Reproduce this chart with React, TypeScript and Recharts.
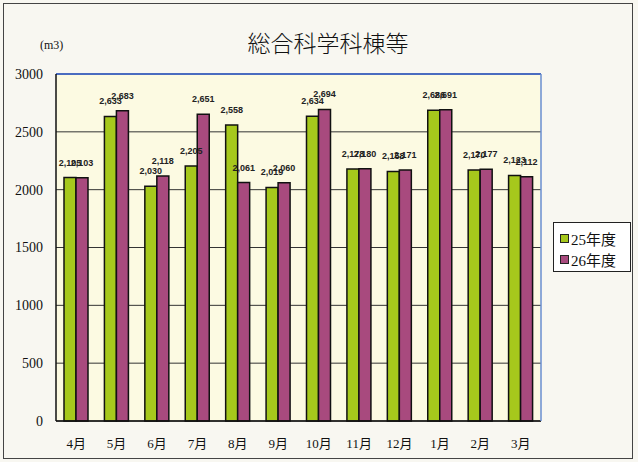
import { BarChart, Bar, XAxis, YAxis, CartesianGrid, ReferenceLine, LabelList } from "recharts";

const months = ["4月", "5月", "6月", "7月", "8月", "9月", "10月", "11月", "12月", "1月", "2月", "3月"];
const fy25 = [2105, 2633, 2030, 2205, 2558, 2019, 2634, 2178, 2158, 2686, 2170, 2123];
const fy26 = [2103, 2683, 2118, 2651, 2061, 2060, 2694, 2180, 2171, 2691, 2177, 2112];
const yTicks = [0, 500, 1000, 1500, 2000, 2500, 3000];
const seriesNames = ["25年度", "26年度"];

const GREEN = "#a6c81c";
const PURPLE = "#a84a7e";
const SERIF = "'Liberation Serif', 'Noto Sans CJK JP', serif";

const data = months.map((m, i) => ({ month: m, fy25: fy25[i], fy26: fy26[i] }));

const fmt = (v: unknown) => Number(v).toLocaleString("en-US");

// 凡例はチャートの余白を取らないように外に置く
function LegendBox() {
  const colors = [GREEN, PURPLE];
  return (
    <div
      style={{
        position: "absolute",
        left: 553,
        top: 222,
        width: 78,
        height: 50,
        border: "1px solid #222",
        background: "#fff",
        boxSizing: "border-box",
        padding: "4px 0 0 6px",
      }}
    >
      {seriesNames.map((name, i) => (
        <div key={name} style={{ display: "flex", alignItems: "center", height: 20, marginTop: 1 }}>
          <span
            style={{
              width: 7,
              height: 7,
              background: colors[i],
              border: "1px solid #222",
              marginRight: 2,
            }}
          />
          <span style={{ fontFamily: SERIF, fontSize: 15, color: "#111" }}>{name}</span>
        </div>
      ))}
    </div>
  );
}

const labelStyle = { fontFamily: "'Liberation Sans', Arial, sans-serif", fontSize: 9, fontWeight: 700, fill: "#222" };

export default function App() {
  return (
    <div
      style={{
        position: "absolute",
        left: 0,
        top: 0,
        width: 638,
        height: 462,
        background: "#f8f7f1",
        overflow: "hidden",
      }}
    >
      <div
        style={{
          position: "absolute",
          left: 3,
          top: 3,
          width: 630,
          height: 456,
          border: "1px solid #444",
          boxSizing: "border-box",
        }}
      />
      <div
        style={{
          position: "absolute",
          left: 0,
          width: 656,
          top: 25,
          textAlign: "center",
          fontFamily: "'Noto Sans CJK JP', sans-serif",
          fontSize: 23,
          fontWeight: 300,
          color: "#111",
        }}
      >
        総合科学科棟等
      </div>
      <div
        style={{
          position: "absolute",
          left: 40,
          top: 38,
          fontFamily: SERIF,
          fontSize: 12,
          color: "#111",
        }}
      >
        (m3)
      </div>
      <div style={{ position: "absolute", left: 0, top: 0 }}>
        <BarChart
          width={638}
          height={462}
          data={data}
          barGap={0}
          barSize={12}
          margin={{ top: 74, right: 96, bottom: 11, left: 6 }}
        >
          <CartesianGrid vertical={false} stroke="#333" fill="#fcfae2" />
          <XAxis
            dataKey="month"
            axisLine={{ stroke: "#111", strokeWidth: 1.5 }}
            tickLine={false}
            tickMargin={12}
            height={30}
            tick={{ fontFamily: SERIF, fontSize: 13, fill: "#111" }}
          />
          <YAxis
            domain={[0, 3000]}
            ticks={yTicks}
            interval={0}
            width={50}
            axisLine={{ stroke: "#111", strokeWidth: 1.5 }}
            tickLine={false}
            tickSize={0}
            tickMargin={13}
            tick={{ fontFamily: SERIF, fontSize: 14, fill: "#111" }}
          />
          <YAxis
            yAxisId="right"
            orientation="right"
            domain={[0, 3000]}
            width={1}
            tick={false}
            tickLine={false}
            axisLine={{ stroke: "#6a8ed0", strokeWidth: 1.5 }}
          />
          <ReferenceLine y={3000} stroke="#4a6cc0" strokeWidth={2} />
          <Bar dataKey="fy25" name={seriesNames[0]} fill={GREEN} stroke="#111" strokeWidth={1.5} isAnimationActive={false}>
            <LabelList dataKey="fy25" position="top" offset={12} formatter={fmt} style={labelStyle} />
          </Bar>
          <Bar dataKey="fy26" name={seriesNames[1]} fill={PURPLE} stroke="#111" strokeWidth={1.5} isAnimationActive={false}>
            <LabelList dataKey="fy26" position="top" offset={12} formatter={fmt} style={labelStyle} />
          </Bar>
        </BarChart>
      </div>
      <LegendBox />
    </div>
  );
}
